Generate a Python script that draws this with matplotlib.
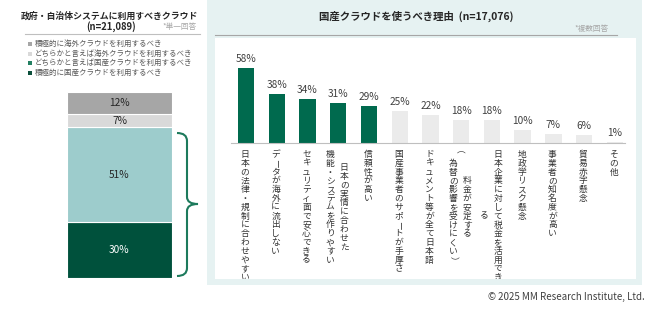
import matplotlib
matplotlib.use("Agg")
import matplotlib.pyplot as plt
from matplotlib.patches import Rectangle, PathPatch
from matplotlib.path import Path

plt.rcParams['font.family'] = ['Noto Sans CJK JP', 'DejaVu Sans']

# left: single answer, stacked bottom -> top
share_labels = ["積極的に国産クラウドを利用するべき",
                "どちらかと言えば国産クラウドを利用するべき",
                "どちらかと言えば海外クラウドを利用するべき",
                "積極的に海外クラウドを利用するべき"]
share_values = [30, 51, 7, 12]

# right: reasons (multiple answers); each label is list of vertical columns, right first
reason_labels = [
    ["日本の法律・規制に合わせやすい"],
    ["データが海外に流出しない"],
    ["セキュリティ面で安心できる"],
    ["日本の実情に合わせた", "機能・システムを作りやすい"],
    ["信頼性が高い"],
    ["国産事業者のサポートが手厚さ"],
    ["ドキュメント等が全て日本語"],
    ["料金が安定する", "（為替の影響を受けにくい）"],
    ["日本企業に対して税金を活用でき", "る"],
    ["地政学リスク懸念"],
    ["事業者の知名度が高い"],
    ["貿易赤字懸念"],
    ["その他"],
]
reason_values = [58, 38, 34, 31, 29, 25, 22, 18, 18, 10, 7, 6, 1]
n_highlight = 5

W, H = 665, 334
fig = plt.figure(figsize=(W / 100, H / 100), dpi=100)
fig.patch.set_facecolor("white")

# background layer in pixel coordinates
bg = fig.add_axes([0, 0, 1, 1])
bg.set_xlim(0, W); bg.set_ylim(H, 0); bg.axis("off")
bg.add_patch(Rectangle((207, 0), 435, 285, fc="#e6f2f2", ec="none"))
inner = Rectangle((215, 38), 421, 241, fc="white", ec="none")
bg.add_patch(inner)
bg.plot([25, 200], [34, 34], color="#bfbfbf", lw=0.8)
bg.plot([215, 617], [35, 35], color="#a6a6a6", lw=0.8)

bg.text(110, 16, "政府・自治体システムに利用すべきクラウド", ha="center", va="center",
        fontsize=6.4, fontweight="bold", color="#262626")
bg.text(111, 27, "(n=21,089)", ha="center", va="center",
        fontsize=6.8, fontweight="bold", color="#262626")
bg.text(197, 27, "*単一回答", ha="right", va="center", fontsize=5.5, color="#a6a6a6")
bg.text(416, 16, "国産クラウドを使うべき理由  (n=17,076)", ha="center", va="center",
        fontsize=7.5, fontweight="bold", color="#262626")
bg.text(609, 29, "*複数回答", ha="right", va="center", fontsize=5.5, color="#a6a6a6")
bg.text(645, 297, "© 2025 MM Research Institute, Ltd.", ha="right", va="center",
        fontsize=7, color="#404040")

share_colors = ["#00513c", "#9dcccc", "#d9d9d9", "#a6a6a6"]
legend_colors = ["#0b4f3b", "#238062", "#d9d9d9", "#a6a6a6"]
for k, (lab, c) in enumerate(zip(share_labels[::-1], legend_colors[::-1])):
    y = 44 + k * 9.6
    bg.add_patch(Rectangle((27.5, y - 2), 4, 4, fc=c, ec="none"))
    bg.text(35, y, lab, ha="left", va="center", fontsize=5.4, color="#595959")

# curly bracket
verts = [(177, 133), (187, 133), (187, 141), (187, 197), (187, 204), (198, 204),
         (187, 204), (187, 211), (187, 268), (187, 276), (177, 276)]
codes = [Path.MOVETO, Path.CURVE3, Path.CURVE3, Path.LINETO, Path.CURVE3, Path.CURVE3,
         Path.CURVE3, Path.CURVE3, Path.LINETO, Path.CURVE3, Path.CURVE3]
bg.add_patch(PathPatch(Path(verts, codes), fc="none", ec="#1d7a5c", lw=1.5))

# left stacked bar
axl = fig.add_axes([67 / W, (H - 278) / H, 105 / W, 186 / H])
axl.set_xlim(-0.5, 0.5); axl.set_ylim(0, 100); axl.axis("off")
bottom = 0
for v, c in zip(share_values, share_colors):
    axl.bar(0, v, width=1, bottom=bottom, color=c, edgecolor="white", lw=0.8)
    axl.text(0, bottom + v / 2, f"{v}%", ha="center", va="center", fontsize=7.3,
             color="white" if c == "#00513c" else "#262626")
    bottom += v

# right bar chart
base_px, scale = 143, 75 / 58
ax = fig.add_axes([231 / W, (H - base_px) / H, 394 / W, 70 * scale / H])
ax.set_facecolor("none")
ax.set_xlim(-0.488, 12.33); ax.set_ylim(0, 70)
x = range(len(reason_values))
colors = ["#006a4e" if i < n_highlight else "#ebebeb" for i in x]
ax.bar(x, reason_values, width=0.53, color=colors)
for i, v in zip(x, reason_values):
    ax.annotate(f"{v}%", xy=(i, v), xytext=(0, 4), textcoords="offset pixels",
                ha="center", va="bottom", fontsize=7.3, color="#404040")
for s in ["top", "left", "right"]:
    ax.spines[s].set_visible(False)
ax.spines["bottom"].set_color("#bfbfbf")
ax.spines["bottom"].set_linewidth(0.8)
ax.set_xticks([]); ax.set_yticks([])

# vertical (tategaki) labels, one glyph at a time
TOP, STEP = 11.5, 8.8
ROT = set("ー（）")
for i, cols in enumerate(reason_labels):
    n = max(len(c) for c in cols)
    dxs = [-1] if len(cols) == 1 else [6, -8]
    for col, dx in zip(cols, dxs):
        y0 = TOP + (n - len(col)) * STEP / 2
        for k, ch in enumerate(col):
            t = ax.annotate(ch, xy=(i, 0), xycoords=("data", "axes fraction"),
                            xytext=(dx, -(y0 + k * STEP)),
                            textcoords="offset pixels", ha="center", va="center",
                            rotation=-90 if ch in ROT else 0,
                            fontsize=6.3, color="#333333", annotation_clip=False)
            t.set_clip_path(inner)

fig.savefig("out.png", dpi=100, facecolor="white")
